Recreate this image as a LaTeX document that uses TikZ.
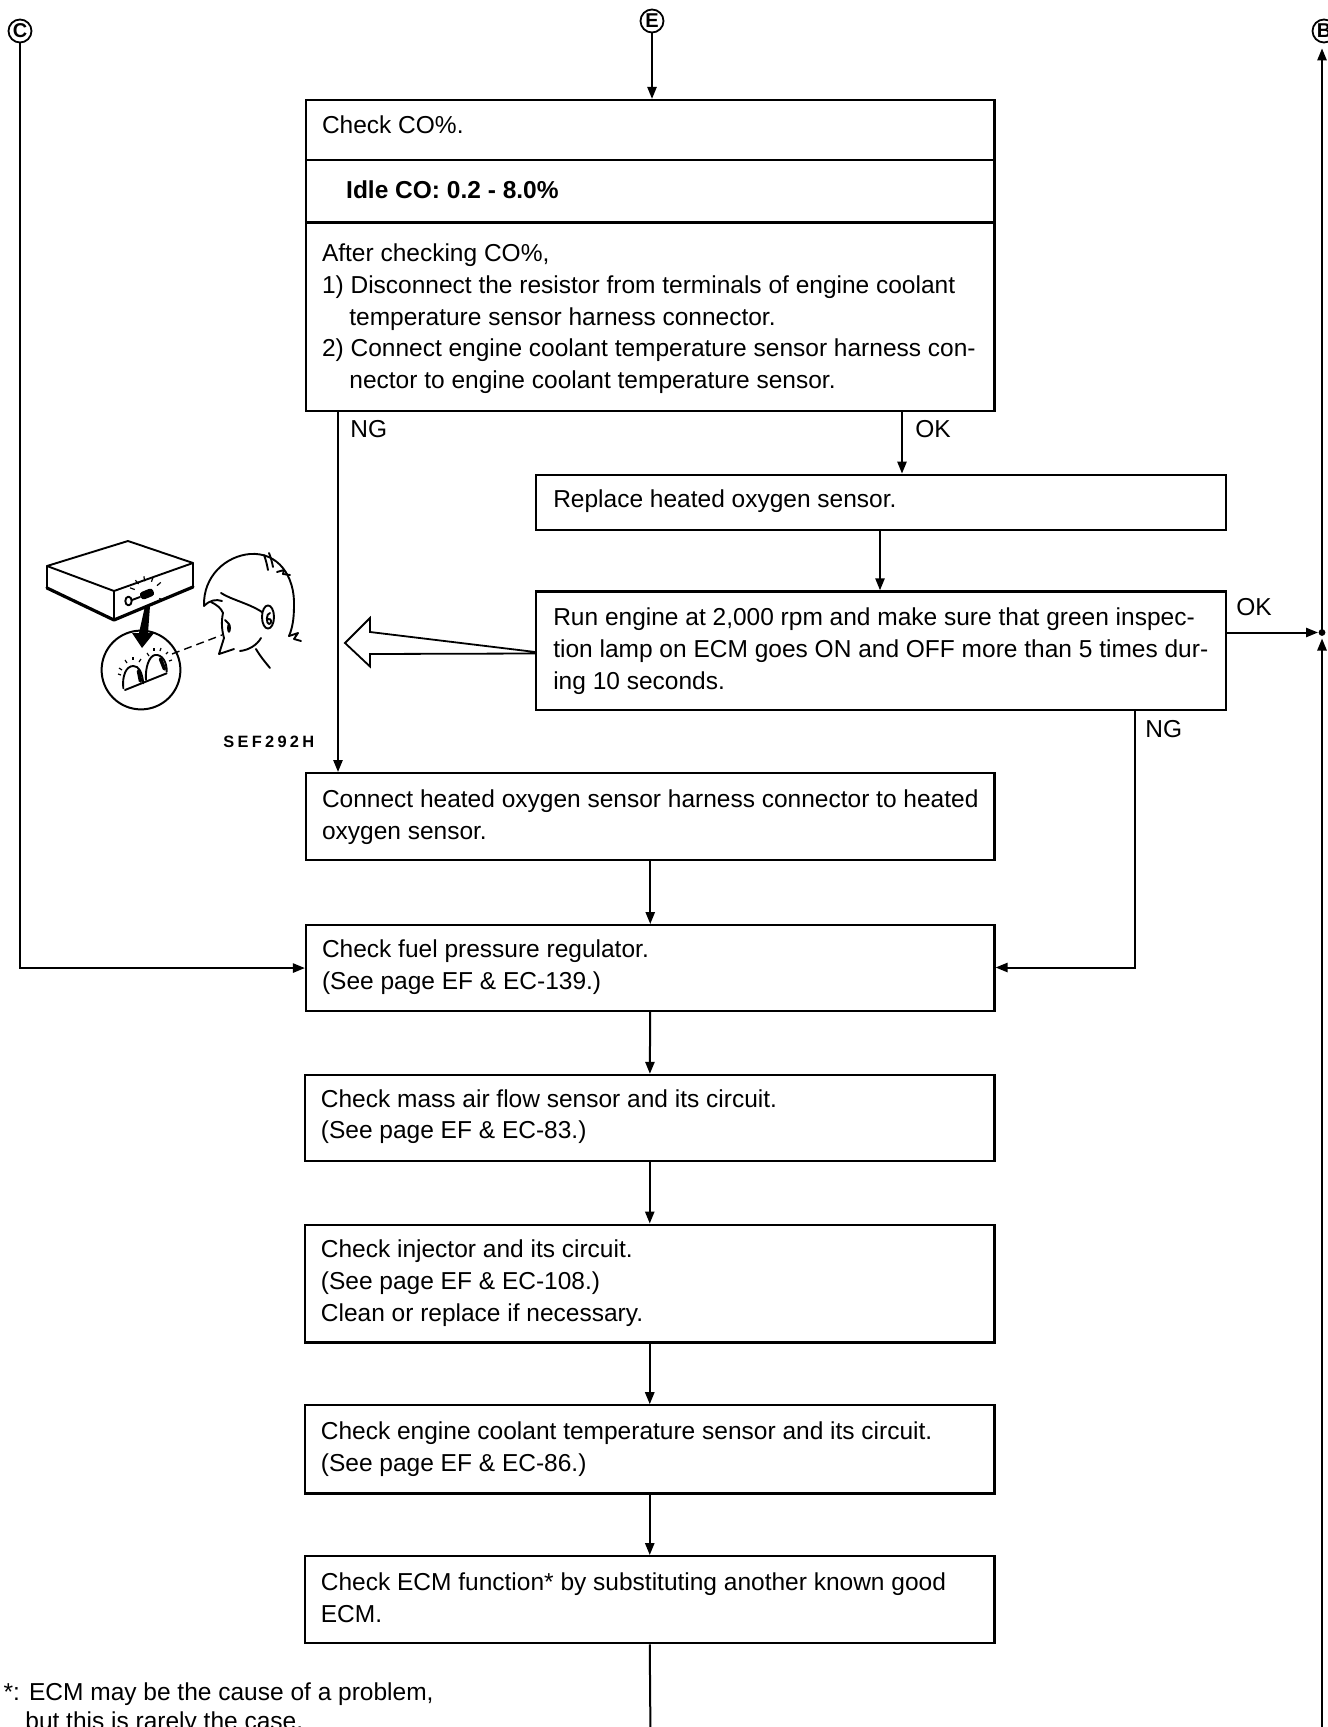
\documentclass[tikz,border=0pt]{standalone}
\usepackage{fontspec}
\setmainfont{Liberation Sans}
\usetikzlibrary{arrows.meta,fit,calc}
\begin{document}
\begin{tikzpicture}[x=0.5pt,y=-0.5pt,
  box/.style={draw,line width=1.1pt,inner sep=0pt},
  txt/.style={anchor=base west,inner sep=0pt,font=\fontsize{12.25}{16}\selectfont},
  conn/.style={line width=1pt},
  arr/.style={conn,-{Triangle[length=6pt,width=4.6pt]}},
  letterc/.style={circle,draw,line width=0.9pt,minimum size=11.5pt,inner sep=0pt,
    font=\bfseries\fontsize{10}{10}\selectfont},
  art/.style={line width=0.95pt,line cap=round,line join=round}
]
\useasboundingbox (0,0) rectangle (1327,1727);

% ---------- boxes ----------
\node[box,fit={(306,100)(994.5,411)}] (b1) {};
\draw[line width=1.1pt] (b1.west |- 0,160) -- (b1.east |- 0,160);
\draw[line width=1.1pt] (b1.west |- 0,222.5) -- (b1.east |- 0,222.5);
\node[box,fit={(536.3,474.7)(1225.7,529.7)}] (b2) {};
\node[box,fit={(536.3,591.4)(1225.7,710.3)}] (b3) {};
\node[box,fit={(306,773.1)(994.5,860.1)}] (b4) {};
\node[box,fit={(306,925.1)(994.5,1011)}] (b5) {};
\node[box,fit={(305,1074.9)(994.5,1160.8)}] (b6) {};
\node[box,fit={(305,1224.6)(994.5,1342.5)}] (b7) {};
\node[box,fit={(305,1405.3)(994.5,1493.4)}] (b8) {};
\node[box,fit={(305,1556.1)(994.5,1643.2)}] (b9) {};

% ---------- texts ----------
\node[txt] (t1a) at (321.6,133.5) {Check CO\%.};
\node[txt,font=\bfseries\fontsize{12.25}{16}\selectfont] (t1b) at (345.8,198.4) {Idle CO: 0.2 - 8.0\%};
\node[txt] (t1c) at (321.6,261.2) {After checking CO\%,};
\node[txt] (t1d) at (321.6,293.1) {1) Disconnect the resistor from terminals of engine coolant};
\node[txt] (t1e) at (349,325.1) {temperature sensor harness connector.};
\node[txt] (t1f) at (321.6,357) {2) Connect engine coolant temperature sensor harness con-};
\node[txt] (t1g) at (349,388.9) {nector to engine coolant temperature sensor.};

\node[txt] (t2a) at (552.9,507.9) {Replace heated oxygen sensor.};

\node[txt] (t3a) at (552.9,625.7) {Run engine at 2,000 rpm and make sure that green inspec-};
\node[txt] (t3b) at (552.9,657.7) {tion lamp on ECM goes ON and OFF more than 5 times dur-};
\node[txt] (t3c) at (552.9,689.6) {ing 10 seconds.};

\node[txt] (t4a) at (321.6,807.4) {Connect heated oxygen sensor harness connector to heated};
\node[txt] (t4b) at (321.6,839.4) {oxygen sensor.};

\node[txt] (t5a) at (321.6,957.2) {Check fuel pressure regulator.};
\node[txt] (t5b) at (321.6,989.2) {(See page EF \& EC-139.)};

\node[txt] (t6a) at (320.5,1107) {Check mass air flow sensor and its circuit.};
\node[txt] (t6b) at (320.5,1138.9) {(See page EF \& EC-83.)};

\node[txt] (t7a) at (320.5,1257.9) {Check injector and its circuit.};
\node[txt] (t7b) at (320.5,1289.8) {(See page EF \& EC-108.)};
\node[txt] (t7c) at (320.5,1321.8) {Clean or replace if necessary.};

\node[txt] (t8a) at (320.5,1439.6) {Check engine coolant temperature sensor and its circuit.};
\node[txt] (t8b) at (320.5,1471.5) {(See page EF \& EC-86.)};

\node[txt] (t9a) at (320.5,1590.5) {Check ECM function* by substituting another known good};
\node[txt] (t9b) at (320.5,1622.4) {ECM.};

\node[txt] (fn1) at (3.3,1700.6) {*: ECM may be the cause of a problem,};
\node[txt] (fn2) at (25,1729.2) {but this is rarely the case.};

% ---------- off-page connectors ----------
\node[letterc] (C) at (20,31) {C};
\node[letterc] (E) at (652,21) {E};
\node[letterc] (B) at (1324,31) {B};

% ---------- connectors ----------
\coordinate (ngx) at (338,0);
\coordinate (okx) at (902,0);
\coordinate (midx) at (880,0);
\coordinate (J) at (1322,632.5);
\coordinate (ng2) at (1135.4,967.5);
\coordinate (Bbot) at (1322,1740);
\coordinate (bot) at (650.5,1740);

\draw[arr] (E) -- (E |- b1.north);
\draw[arr] (b1.south -| ngx) -- (b4.north -| ngx);
\draw[arr] (b1.south -| okx) -- (b2.north -| okx);
\draw[arr] (b2.south -| midx) -- (b3.north -| midx);
\draw[arr,shorten >=2pt] (b3.east |- J) -- (J);
\fill (J) circle[radius=1.7pt];
\draw[arr,shorten >=3pt] (Bbot) -- (J);
\draw[arr,shorten >=2.5pt] (J) -- (J |- B.south);
\draw[arr] (b3.south -| ng2) -- (ng2) -- (b5.east |- ng2);
\draw[arr] (C.south) -- (C.south |- b5.west) -- (b5.west);
\draw[arr] (b4) -- (b5);
\draw[arr] (b5) -- (b6);
\draw[arr] (b6) -- (b7);
\draw[arr] (b7) -- (b8);
\draw[arr] (b8) -- (b9);
\draw[conn] (b9.south) -- (bot);

\node[txt] (lng1) at (350,437.4) {NG};
\node[txt] (lok1) at (915,437.4) {OK};
\node[txt] (lok2) at (1236,615.8) {OK};
\node[txt] (lng2) at (1145,737) {NG};

% ---------- hollow pointer to the illustration ----------
\draw[line width=0.9pt,line join=miter] (b3.west |- 0,652) -- (370,632) -- (370,618) -- (345,643)
  -- (370,666.5) -- (370,654) -- (b3.west |- 0,653.5);

% ---------- illustration: ECM with inspection lamp ----------
\draw[art] (47,566) -- (128,541) -- (193,563) -- (114,591) -- cycle;
\draw[art] (47,566) -- (47,588);
\draw[art] (114,591) -- (114,620);
\draw[art] (193,563) -- (193,587);
\draw[line width=1.6pt,line cap=round,line join=round] (47,588) -- (114,620) -- (193,587);
% lamp on the front face
\filldraw[art,rotate around={22:(147,594)},rounded corners=1pt] (141,591) rectangle (153,597);
\draw[art] (128.5,601) ellipse[x radius=1.6pt,y radius=2.2pt];
\draw[art] (132,600) -- (140,597);
\foreach \a in {40,70,100,130,160,-20}
  \draw[line width=0.6pt] ($(147,594)+(\a:6.5pt)$) -- ($(147,594)+(\a:9pt)$);
% arrow down into the magnifier
\fill (145,606) -- (150,606) -- (148,633) -- (154,633) -- (142,648) -- (132,633) -- (139,633) -- cycle;
% magnifier
\draw[line width=1pt] (141,670) circle[radius=19.7pt];
\draw[art] (123.3,688.3) .. controls (122,676) and (126,666) .. (133.3,666)
  .. controls (139,666) and (142,672) .. (143.3,683.3);
\draw[art] (146,680) .. controls (145,668) and (149,656) .. (155,655)
  .. controls (162,654) and (167,662) .. (166.7,671.7);
\draw[art] (125,690) -- (166.7,673.3);
\draw[line width=1.8pt,line cap=round] (138.5,671) -- (140.5,681);
\draw[line width=1.8pt,line cap=round] (160.5,659) -- (164.5,669);
\foreach \p/\q in {{(118,674)}/{(121,675)},{(119,668)}/{(122,670)},{(125,660)}/{(127,663)},
                   {(133,657)}/{(133,660)},{(141,659)}/{(139,662)},{(147,653)}/{(149,656)},
                   {(154,648)}/{(154,651)},{(161,648)}/{(160,651)},{(168,652)}/{(166,654)},
                   {(172,660)}/{(169,661)}}
  \draw[line width=0.6pt] \p -- \q;
% line of sight
\draw[line width=0.7pt,dash pattern=on 4pt off 2.5pt] (172,654) -- (222,635);

% ---------- illustration: observer's head ----------
\draw[art] (204,606) .. controls (203,576) and (226,556) .. (250,554)
  .. controls (278,552) and (295,576) .. (294,606)
  .. controls (294,620) and (292,629) .. (289,636);
\draw[art] (264,555) .. controls (266,560) and (267,565) .. (268,570);
\draw[art] (269,553) .. controls (271,558) and (272,562) .. (273,567);
\draw[art] (277,572) -- (284,570) -- (283,574) -- (290,575);
\draw[art] (221,593) .. controls (232,600) and (248,603) .. (262,612);
\draw[art] (204,606) .. controls (210,600) and (216,599) .. (222,601);
\draw[art] (211,602) .. controls (217,605) and (221,608) .. (223,613);
\draw[art] (268,617) ellipse[x radius=3pt,y radius=5.8pt];
\draw[art] (270,613) .. controls (266,613) and (266,624) .. (269,624)
  .. controls (272,624) and (272,618) .. (268,619);
\draw[art] (225,620) -- (229,624);
\fill (229,628) ellipse[x radius=1pt,y radius=2.4pt];
\draw[art] (223,613) .. controls (221,622) and (222,631) .. (224,638);
\draw[art] (224,638) -- (219,654) -- (234,649);
\draw[art] (240,651) .. controls (249,650) and (257,645) .. (261,638);
\draw[art] (256,649) .. controls (260,656) and (265,662) .. (270,668);
\draw[art] (289,636) -- (298,633) -- (294,639) -- (301,641);

\node[anchor=base west,inner sep=0pt,font=\bfseries\fontsize{8.2}{10}\selectfont\addfontfeature{LetterSpace=20}]
  (fig) at (223,747.5) {SEF292H};
\end{tikzpicture}
\end{document}
